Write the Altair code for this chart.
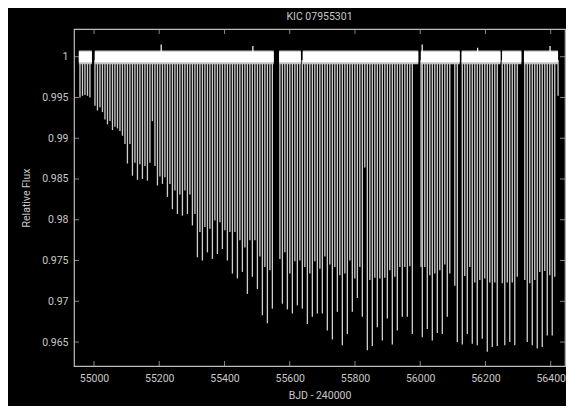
import altair as alt
import pandas as pd

# ---- data ----
ecl_t = [54957.0, 54964.7, 54972.3, 54980.0, 54987.6, 55003.0, 55010.6, 55018.3, 55025.9, 55033.6,
         55041.3, 55048.9, 55056.6, 55064.2, 55071.9, 55079.6, 55087.2, 55094.9, 55102.5, 55110.2,
         55117.9, 55125.5, 55133.2, 55140.8, 55148.5, 55156.2, 55163.8, 55171.5, 55179.1, 55186.8,
         55194.5, 55202.1, 55209.8, 55217.4, 55225.1, 55232.8, 55240.4, 55248.1, 55255.7, 55263.4,
         55271.1, 55278.7, 55286.4, 55294.0, 55301.7, 55309.4, 55317.0, 55324.7, 55332.3, 55340.0,
         55347.7, 55355.3, 55363.0, 55370.6, 55378.3, 55386.0, 55393.6, 55401.3, 55408.9, 55416.6,
         55424.3, 55431.9, 55439.6, 55447.2, 55454.9, 55462.6, 55470.2, 55477.9, 55485.5, 55493.2,
         55500.9, 55508.5, 55516.2, 55523.8, 55531.5, 55539.2, 55546.8, 55569.8, 55577.5, 55585.1,
         55592.8, 55600.4, 55608.1, 55615.8, 55623.4, 55631.1, 55638.7, 55646.4, 55654.1, 55661.7,
         55669.4, 55677.0, 55684.7, 55692.4, 55700.0, 55707.7, 55715.3, 55723.0, 55730.7, 55738.3,
         55746.0, 55753.6, 55761.3, 55769.0, 55776.6, 55784.3, 55791.9, 55799.6, 55807.3, 55814.9,
         55822.6, 55830.2, 55837.9, 55845.6, 55853.2, 55860.9, 55868.5, 55876.2, 55883.9, 55891.5,
         55899.2, 55906.8, 55914.5, 55922.2, 55929.8, 55937.5, 55945.1, 55952.8, 55960.5, 55968.1,
         55975.8, 56002.5, 56006.4, 56014.1, 56021.7, 56029.4, 56037.1, 56044.7, 56052.4, 56060.0,
         56067.7, 56075.4, 56083.0, 56090.7, 56106.0, 56113.7, 56129.0, 56136.6, 56144.3, 56152.0,
         56159.6, 56167.3, 56174.9, 56182.6, 56190.3, 56197.9, 56205.6, 56213.2, 56220.9, 56228.6,
         56236.2, 56251.5, 56259.2, 56266.9, 56274.5, 56282.2, 56289.8, 56297.5, 56320.5, 56328.1,
         56335.8, 56343.5, 56351.1, 56358.8, 56366.4, 56374.1, 56381.8, 56389.4, 56397.1, 56404.7,
         56412.4, 56422.5]
ecl_depth = [0.9950, 0.9952, 0.9953, 0.9952, 0.9950, 0.9940, 0.9934, 0.9938, 0.9932, 0.9923,
             0.9917, 0.9921, 0.9910, 0.9914, 0.9912, 0.9909, 0.9903, 0.9893, 0.9869, 0.9893,
             0.9854, 0.9870, 0.9849, 0.9868, 0.9850, 0.9866, 0.9848, 0.9870, 0.9921, 0.9866,
             0.9842, 0.9853, 0.9844, 0.9852, 0.9828, 0.9844, 0.9813, 0.9836, 0.9807, 0.9831,
             0.9805, 0.9836, 0.9807, 0.9831, 0.9793, 0.9807, 0.9754, 0.9785, 0.9750, 0.9791,
             0.9760, 0.9789, 0.9752, 0.9799, 0.9758, 0.9797, 0.9764, 0.9787, 0.9750, 0.9785,
             0.9734, 0.9785, 0.9728, 0.9775, 0.9736, 0.9766, 0.9709, 0.9775, 0.9730, 0.9775,
             0.9715, 0.9755, 0.9683, 0.9742, 0.9673, 0.9738, 0.9691, 0.9752, 0.9697, 0.9760,
             0.9690, 0.9734, 0.9685, 0.9749, 0.9695, 0.9750, 0.9691, 0.9742, 0.9672, 0.9734,
             0.9681, 0.9749, 0.9685, 0.9740, 0.9685, 0.9755, 0.9664, 0.9745, 0.9653, 0.9742,
             0.9687, 0.9732, 0.9646, 0.9734, 0.9660, 0.9750, 0.9687, 0.9728, 0.9704, 0.9742,
             0.9681, 0.9864, 0.9640, 0.9726, 0.9645, 0.9729, 0.9668, 0.9728, 0.9652, 0.9729,
             0.9679, 0.9738, 0.9647, 0.9730, 0.9664, 0.9742, 0.9681, 0.9742, 0.9681, 0.9743,
             0.9660, 0.9742, 0.9656, 0.9742, 0.9666, 0.9732, 0.9652, 0.9734, 0.9661, 0.9738,
             0.9660, 0.9745, 0.9681, 0.9734, 0.9719, 0.9650, 0.9647, 0.9731, 0.9660, 0.9742,
             0.9648, 0.9723, 0.9646, 0.9726, 0.9654, 0.9728, 0.9638, 0.9723, 0.9644, 0.9723,
             0.9645, 0.9722, 0.9646, 0.9723, 0.9650, 0.9723, 0.9646, 0.9730, 0.9726, 0.9650,
             0.9722, 0.9646, 0.9726, 0.9642, 0.9736, 0.9644, 0.9737, 0.9658, 0.9732, 0.9658,
             0.9730, 0.9952]

# observing segments (start, end) of the out-of-eclipse band
seg_start = [54953.5, 55002.5, 55567.5, 55640.0, 56002.0, 56127.0, 56251.0, 56318.0]
seg_end = [54993.5, 55551.0, 55634.0, 55994.0, 56121.0, 56246.0, 56310.0, 56422.5]

# upward spikes in the band
spike_t = [55206.0, 55487.0, 56006.0, 56176.0, 56398.0]
spike_v = [1.0015, 1.0013, 1.0015, 1.0011, 1.0013]

x_ticks = [55000, 55200, 55400, 55600, 55800, 56000, 56200, 56400]
y_ticks = [0.965, 0.97, 0.975, 0.98, 0.985, 0.99, 0.995, 1.0]

W, H = 491, 337
FONT = "Roboto"
TXT = "#c8c8c8"
AX = "#bdbdbd"

xscale = alt.Scale(domain=[54938.7, 56443.8], nice=False, zero=False)
yscale = alt.Scale(domain=[0.96206, 1.0034], nice=False, zero=False)


def X(field):
    return alt.X(field, type="quantitative", scale=xscale,
                 axis=alt.Axis(values=x_ticks, format="d", ticks=False, domain=False, grid=False,
                               labelColor=TXT, labelFont=FONT, labelFontSize=10.5, labelPadding=7,
                               title="BJD - 240000", titleColor=TXT, titleFont=FONT,
                               titleFontSize=10.5, titleFontWeight="normal", titlePadding=7))


def Y(field):
    return alt.Y(field, type="quantitative", scale=yscale,
                 axis=alt.Axis(values=y_ticks, format="~g", ticks=False, domain=False, grid=False,
                               labelColor=TXT, labelFont=FONT, labelFontSize=10.5, labelPadding=6,
                               title="Relative Flux", titleColor=TXT, titleFont=FONT,
                               titleFontSize=10.5, titleFontWeight="normal", titlePadding=10))


ecl = pd.DataFrame({"t": ecl_t, "depth": ecl_depth})
seg = pd.DataFrame({"s": seg_start, "e": seg_end})
spk = pd.DataFrame({"t": spike_t, "v": spike_v})
xt = pd.DataFrame({"v": x_ticks})
yt = pd.DataFrame({"v": y_ticks})

rules = alt.Chart(ecl).mark_rule(color="#cfcfcf", strokeWidth=1.3).encode(
    x=X("t"), y=Y("depth"), y2=alt.datum(0.9996))

band_outer = alt.Chart(seg).mark_rect(color="#c4c4c4").encode(
    x=X("s"), x2="e", y=alt.datum(0.99908), y2=alt.datum(1.00076))
band_inner = alt.Chart(seg).mark_rect(color="#ffffff").encode(
    x=X("s"), x2="e", y=alt.datum(0.99932), y2=alt.datum(1.00062))

spikes = alt.Chart(spk).mark_rule(color="#ffffff", strokeWidth=1.2).encode(
    x=X("t"), y=Y("v"), y2=alt.datum(1.0005))

tick_b = alt.Chart(xt).mark_tick(orient="vertical", size=5, thickness=1, color=AX).encode(
    x=X("v"), y=alt.value(H - 2.5))
tick_t = alt.Chart(xt).mark_tick(orient="vertical", size=5, thickness=1, color=AX).encode(
    x=X("v"), y=alt.value(2.5))
tick_l = alt.Chart(yt).mark_tick(orient="horizontal", size=5, thickness=1, color=AX).encode(
    y=Y("v"), x=alt.value(2.5))
tick_r = alt.Chart(yt).mark_tick(orient="horizontal", size=5, thickness=1, color=AX).encode(
    y=Y("v"), x=alt.value(W - 2.5))

chart = alt.layer(rules, band_outer, band_inner, spikes, tick_b, tick_t, tick_l, tick_r).properties(
    width=W, height=H,
    title=alt.TitleParams("KIC 07955301", font=FONT, fontSize=10.5, fontWeight="normal",
                          color=TXT, offset=7, anchor="middle"),
    autosize=alt.AutoSizeParams(type="none"),
    padding={"left": 66, "top": 21, "right": 1, "bottom": 40},
    background="#000000",
).configure_view(stroke=AX, strokeWidth=1.2)

chart.save("out.html", embed_options={"renderer": "svg", "actions": False})
